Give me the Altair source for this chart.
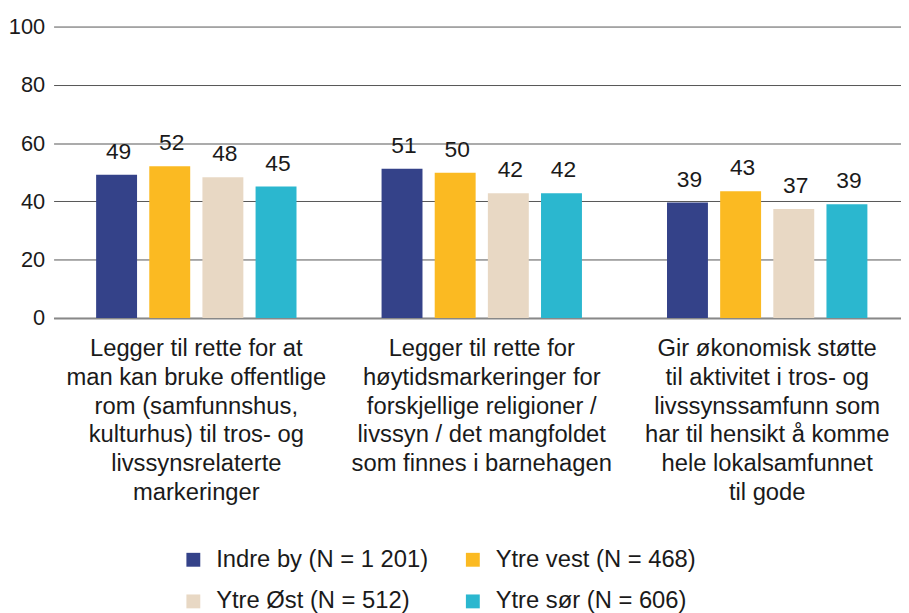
import altair as alt
import pandas as pd

categories = [
    "Legger til rette for at|man kan bruke offentlige|rom (samfunnshus,|kulturhus) til tros- og|livssynsrelaterte|markeringer",
    "Legger til rette for|høytidsmarkeringer for|forskjellige religioner /|livssyn / det mangfoldet|som finnes i barnehagen",
    "Gir økonomisk støtte|til aktivitet i tros- og|livssynssamfunn som|har til hensikt å komme|hele lokalsamfunnet|til gode",
]
series = ["Indre by (N = 1 201)", "Ytre vest (N = 468)", "Ytre Øst (N = 512)", "Ytre sør (N = 606)"]
colors = ["#344289", "#FBBA22", "#E8D8C4", "#2BB7CF"]

indre_by = [49.1, 51.2, 39.6]
ytre_vest = [52.1, 49.8, 43.5]
ytre_ost = [48.3, 42.8, 37.4]
ytre_sor = [45.1, 42.8, 39.0]

indre_by_lbl = [49, 51, 39]
ytre_vest_lbl = [52, 50, 43]
ytre_ost_lbl = [48, 42, 37]
ytre_sor_lbl = [45, 42, 39]

rows = []
for s, vals, lbls in zip(series,
                         [indre_by, ytre_vest, ytre_ost, ytre_sor],
                         [indre_by_lbl, ytre_vest_lbl, ytre_ost_lbl, ytre_sor_lbl]):
    for c, v, l in zip(categories, vals, lbls):
        rows.append({"category": c, "series": s, "value": v, "label": str(l)})
df = pd.DataFrame(rows)

# legend fills column by column: order domain so rows read Indre/vest, Øst/sør
legend_order = [series[0], series[2], series[1], series[3]]
legend_colors = [colors[0], colors[2], colors[1], colors[3]]

FONT = "Liberation Sans"
TXT = "#1a1a1a"

x = alt.X(
    "category:N", sort=categories,
    scale=alt.Scale(paddingInner=0.298, paddingOuter=0.149, range=[0, 864]),
    axis=alt.Axis(
        title=None, labelAngle=0, labelExpr="split(datum.label, '|')",
        labelFontSize=24, labelLineHeight=29, labelPadding=19, labelLimit=400,
        labelColor=TXT, labelFont=FONT, ticks=False,
        domain=True, domainColor="#888888", domainWidth=2,
    ),
)
xo = alt.XOffset("series:N", sort=series, scale=alt.Scale(paddingInner=0.23, paddingOuter=0))
y = alt.Y(
    "value:Q", scale=alt.Scale(domain=[0, 100]),
    axis=alt.Axis(
        title=None, values=[0, 20, 40, 60, 80, 100], domain=False, ticks=False,
        grid=True, gridColor="#555555", gridWidth=1,
        labelFontSize=22, labelPadding=9, labelColor=TXT, labelFont=FONT,
    ),
)

bars = alt.Chart(df).mark_bar().encode(
    x=x, xOffset=xo, y=y,
    color=alt.Color(
        "series:N",
        scale=alt.Scale(domain=legend_order, range=legend_colors),
        legend=alt.Legend(
            title=None, orient="none", legendX=129, legendY=526, columns=2,
            symbolType="square", symbolSize=196, symbolStrokeWidth=0,
            labelFontSize=24, labelFont=FONT, labelColor=TXT, labelLimit=400,
            labelOffset=11, columnPadding=32, rowPadding=18,
        ),
    ),
)

texts = alt.Chart(df).mark_text(
    dy=-11, dx=2, baseline="bottom", fontSize=23, font=FONT, color=TXT
).encode(x=x, xOffset=xo, y=y, text="label:N")

chart = (
    alt.layer(bars, texts)
    .properties(
        width=855, height=294,
        autosize=alt.AutoSizeParams(type="none"),
        padding={"left": 46, "top": 16, "right": 0, "bottom": 297},
    )
    .configure(font=FONT)
    .configure_view(stroke=None)
)

chart.save("out.html", embed_options={"renderer": "svg", "actions": False})
